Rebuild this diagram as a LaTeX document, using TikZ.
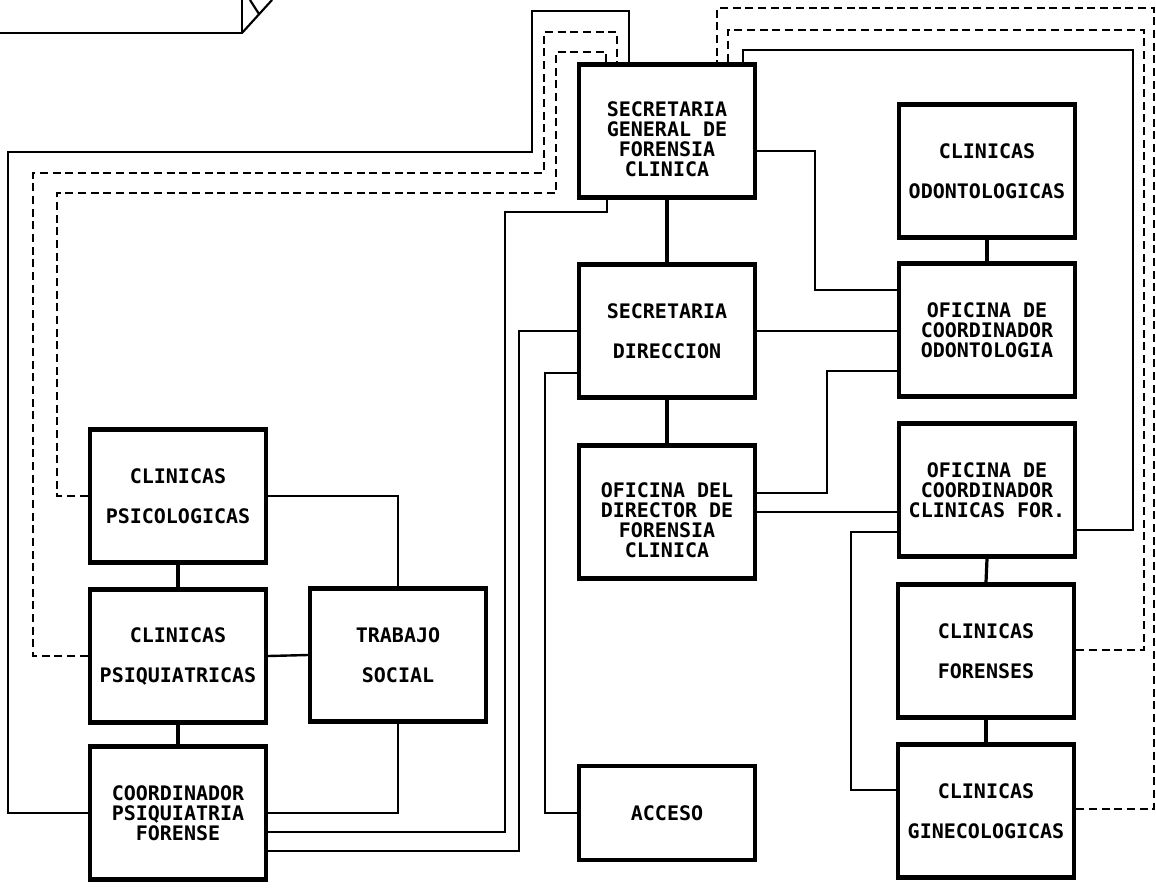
\documentclass[tikz,border=0pt]{standalone}
\usepackage{fontspec}
\setmonofont{DejaVu Sans Mono}
\usetikzlibrary{calc}

\begin{document}
\begin{tikzpicture}[x=0.75pt,y=-0.75pt]

% ---------- common style ----------
\tikzstyle{office}=[draw=black,line width=3.3pt,minimum width=132pt,minimum height=100pt,inner sep=0pt,align=center,font=\ttfamily\bfseries\fontsize{15}{15}\selectfont]
\tikzstyle{wire}=[draw=black,line width=1.8pt]
\tikzstyle{link}=[draw=black,line width=2.4pt]
\tikzstyle{dashwire}=[draw=black,line width=2.2pt,dash pattern=on 6pt off 3.5pt]

\useasboundingbox (0,0) rectangle (1156,890);

% cut-off frame at the top edge
\draw[line width=2.2pt] (0,33) -- (242,33) -- (242,0);
\draw[line width=1.6pt] (242,33) -- (272,0) (250,0) -- (259,14);

% ================== central column ==================
\node[office] (sgen) at (667,131) {\rule{0pt}{24pt}SECRETARIA\\GENERAL DE\\FORENSIA\\CLINICA};
\node[office] (sdir) at (667,331) {SECRETARIA\\[15pt]DIRECCION};
\node[office] (odir) at (667,512) {\rule{0pt}{24pt}OFICINA DEL\\DIRECTOR DE\\FORENSIA\\CLINICA};
\node[office,minimum height=70.5pt] (acc) at (667,813) {ACCESO};

% ================== right column ==================
\node[office] (codo) at (987,171) {CLINICAS\\[15pt]ODONTOLOGICAS};
\node[office] (oodo) at (987,330) {OFICINA DE\\COORDINADOR\\ODONTOLOGIA};
\node[office] (ocli) at (987,490) {OFICINA DE\\COORDINADOR\\CLINICAS FOR.};
\node[office] (cfor) at (986,651) {CLINICAS\\[15pt]FORENSES};
\node[office] (cgin) at (986,811) {CLINICAS\\[15pt]GINECOLOGICAS};

% ================== left group ==================
\node[office] (cpsi) at (178,496) {CLINICAS\\[15pt]PSICOLOGICAS};
\node[office] (cpsq) at (178,656) {CLINICAS\\[15pt]PSIQUIATRICAS};
\node[office] (tsoc) at (398,655) {TRABAJO\\[15pt]SOCIAL};
\node[office] (cpf)  at (178,813) {COORDINADOR\\PSIQUIATRIA\\FORENSE};

% vertical links
\draw[link] (sgen.south) -- (sdir.north);
\draw[link] (sdir.south) -- (odir.north);
\draw[link] (codo.south) -- (oodo.north);
\draw[link] (ocli.south) -- (cfor.north);
\draw[link] (cfor.south) -- (cgin.north);
\draw[link] (cpsi.south) -- (cpsq.north);
\draw[link] (cpsq.south) -- (cpf.north);

% left group wiring
\draw[wire] (cpsi.east) -| (tsoc.north);
\draw[wire] (cpsq.east) -- (tsoc.west);
\draw[wire] (tsoc.south) |- (cpf.east);
\draw[wire] ($(cpf.east)+(0,19)$) -| (505,212) -| ($(sgen.south)+(-60,0)$);
\draw[wire] ($(cpf.east)+(0,38)$) -| ($(sdir.west)+(-58,0)$) -- (sdir.west);
\draw[wire] ($(sdir.west)+(0,42)$) -| ($(acc.west)+(-32,0)$) -- (acc.west);

% centre to right column
\draw[wire] ($(sgen.east)+(0,20)$) -| ($(oodo.west)+(-82,-40)$) -- ($(oodo.west)+(0,-40)$);
\draw[wire] (sdir.east) -- (sdir.east -| oodo.west);
\draw[wire] ($(odir.east)+(0,-19)$) -| ($(oodo.west)+(-70,41)$) -- ($(oodo.west)+(0,41)$);
\draw[wire] (odir.east) -- (odir.east -| ocli.west);
\draw[wire] ($(ocli.west)+(0,42)$) -| ($(cgin.west)+(-45,-21)$) -- ($(cgin.west)+(0,-21)$);

% long returns over the top
\draw[wire] (cpf.west) -| (8,152) -| (532,11) -| ($(sgen.north)+(-38,0)$);
\draw[dashwire] (cpsq.west) -| (33,173) -| (544,32) -| ($(sgen.north)+(-50,0)$);
\draw[dashwire] (cpsi.west) -| (57,193) -| (556,52) -| ($(sgen.north)+(-61,0)$);
\draw[wire] ($(ocli.east)+(0,40)$) -| (1133,50) -| ($(sgen.north)+(76,0)$);
\draw[dashwire] ($(cfor.east)+(0,-1)$) -| (1144,30) -| ($(sgen.north)+(61,0)$);
\draw[dashwire] ($(cgin.east)+(0,-2)$) -| (1154,8) -| ($(sgen.north)+(50,0)$);

\end{tikzpicture}
\end{document}
